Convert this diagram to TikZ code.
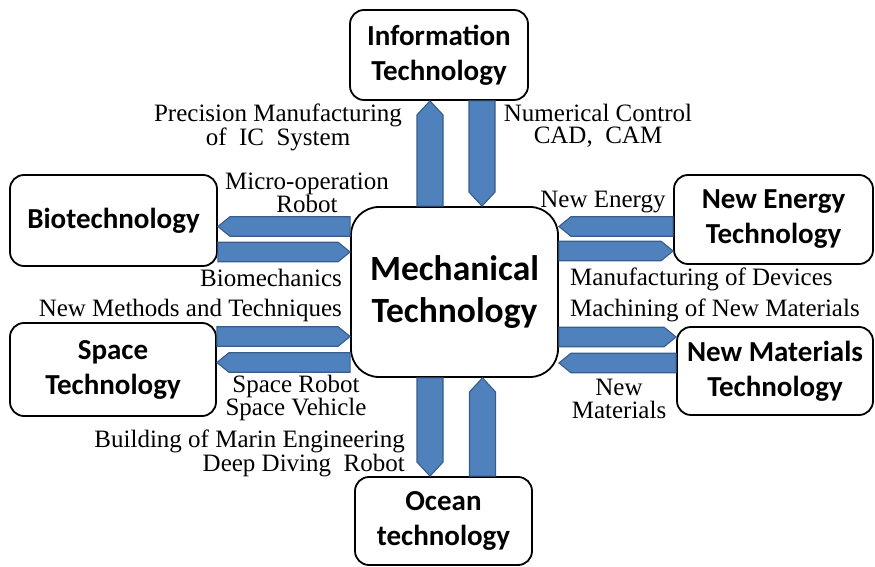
\documentclass[tikz,border=0pt]{standalone}
\usepackage{fontspec}
\setmainfont{Liberation Serif}
\newfontfamily\boxfont{Carlito}
\usepackage{xcolor}
\usetikzlibrary{calc}

\definecolor{arrowfill}{HTML}{4F81BD}
\definecolor{arrowline}{HTML}{385D8A}

\begin{document}
\begin{tikzpicture}[
    x=1pt, y=1pt,
    tech/.style      ={draw, line width=1.8pt, rounded corners=14pt, fill=white, align=center, inner sep=0pt,
                       font=\boxfont\bfseries\fontsize{29}{35}\selectfont},
    hub/.style       ={tech, rounded corners=28pt, font=\boxfont\bfseries\fontsize{35.5}{42}\selectfont},
    lbl/.style       ={inner sep=0pt, align=center, font=\fontsize{25}{22.5}\selectfont},
    blockarrow/.style 2 args={draw=arrowline, fill=arrowfill, line width=1.1pt, line join=miter,
        to path={
          ($(\tikztostart)!#1!90:(\tikztotarget)$) --
          ($(\tikztotarget)!#2!(\tikztostart)!#1!-90:(\tikztostart)$) --
          (\tikztotarget) --
          ($(\tikztotarget)!#2!(\tikztostart)!#1!90:(\tikztostart)$) --
          ($(\tikztostart)!#1!-90:(\tikztotarget)$) -- cycle}},
    varrow/.style    ={blockarrow={13pt}{14pt}},
    harrow/.style    ={blockarrow={9.75pt}{12pt}},
]
\path[use as bounding box] (0,0) rectangle (875,567);

\node[hub,  minimum width=207pt, minimum height=170pt] (mech)      at (454.5,275)  {Mechanical\\Technology};
\node[tech, minimum width=178pt, minimum height=90pt]  (info)      at (439,512)    {Information\\Technology};
\node[tech, minimum width=207pt, minimum height=91pt]  (bio)       at (113.5,346.5){Biotechnology};
\node[tech, minimum width=206pt, minimum height=93pt]  (space)     at (113,197.5)  {Space\\Technology};
\node[tech, minimum width=199pt, minimum height=89pt]  (energy)    at (773.5,347.5){New Energy\\Technology};
\node[tech, minimum width=196pt, minimum height=88pt]  (materials) at (775,196)    {New Materials\\Technology};
\node[tech, minimum width=177pt, minimum height=88pt]  (ocean)     at (443.5,46)   {Ocean\\technology};

% Paired arrows
\draw[varrow] ([xshift=-24.5pt]mech.north)    to ([xshift=-9pt]info.south);
\draw[varrow] ([xshift=43pt]info.south)       to ([xshift=27.5pt]mech.north);
\draw[varrow] ([xshift=-24.5pt]mech.south)    to ([xshift=-13.5pt]ocean.north);
\draw[varrow] ([xshift=39pt]ocean.north)      to ([xshift=28pt]mech.south);

\draw[harrow] ([yshift=65.5pt]mech.west)      to ([yshift=-6pt]bio.east);
\draw[harrow] ([yshift=-31.5pt]bio.east)      to ([yshift=40pt]mech.west);
\draw[harrow] ([yshift=33pt]space.east)       to ([yshift=-44.5pt]mech.west);
\draw[harrow] ([yshift=-70.5pt]mech.west)     to ([yshift=7pt]space.east);

\draw[harrow] ([yshift=-7pt]energy.west)      to ([yshift=65.5pt]mech.east);
\draw[harrow] ([yshift=41pt]mech.east)        to ([yshift=-31.5pt]energy.west);
\draw[harrow] ([yshift=-45pt]mech.east)       to ([yshift=34pt]materials.west);
\draw[harrow] ([yshift=8pt]materials.west)    to ([yshift=-71pt]mech.east);

% Labels
\node[lbl] (prec)     at (278,439.5) {Precision Manufacturing\\of\ \ IC\ \ System};
\node[lbl] (numctrl)  at (598,441)   {Numerical Control\\CAD,\ \ CAM};
\node[lbl] (micro)    at (307,374)   {Micro-operation\\Robot};
\node[lbl, anchor=east] (biomech) at (342,289) {Biomechanics};
\node[lbl, anchor=east] (methods) at (342,257) {New Methods and Techniques};
\node[lbl] (sprobot)  at (296,169)   {Space Robot\\Space Vehicle};
\node[lbl, anchor=east, align=right] (marin) at (405,113.5) {Building of Marin Engineering\\Deep Diving\ \ Robot};
\node[lbl] (newen)    at (603,365)   {New Energy};
\node[lbl, anchor=west, align=left] (devices) at (570,272) {Manufacturing of Devices\\[7.5pt]Machining of New Materials};
\node[lbl] (newmat)   at (619,168)   {New\\Materials};

\end{tikzpicture}
\end{document}
